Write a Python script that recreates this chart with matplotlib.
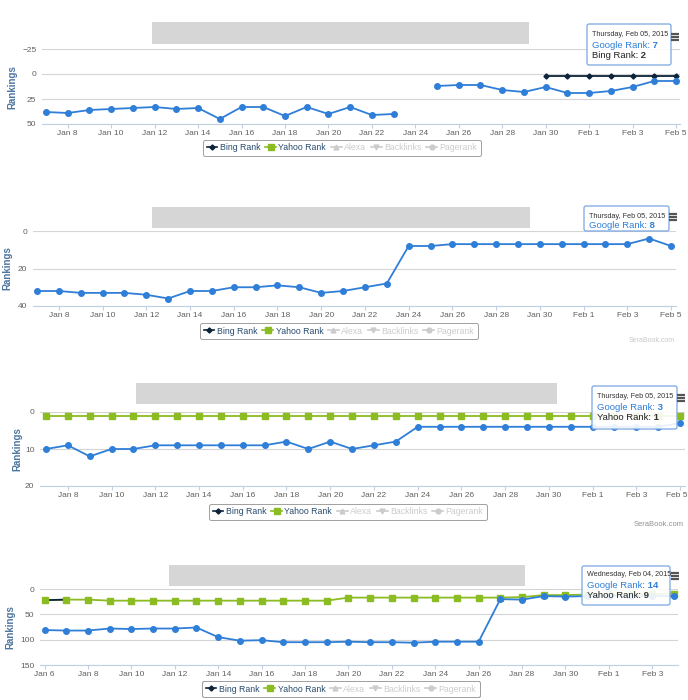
import numpy as np
import pandas as pd
import matplotlib
matplotlib.use("Agg")
import matplotlib.pyplot as plt
import matplotlib.dates as mdates
from matplotlib.patches import FancyBboxPatch, Rectangle
from matplotlib.lines import Line2D

W, H = 688, 700
plt.rcParams["font.family"] = ["Liberation Sans Narrow", "Liberation Sans", "DejaVu Sans"]

GOOGLE_C = "#2f7ed8"
BING_C = "#0d233a"
YAHOO_C = "#8bbc21"
HIDDEN_C = "#cccccc"
nan = np.nan

# ---- data ----
p1_google = [38, 39, 36, 35, 34, 33, 35, 34, 45, 33, 33, 42, 33, 40, 33, 41, 40, nan,
             12, 11, 11, 16, 18, 13, 19, 19, 17, 13, 7, 7]          # Jan 7 .. Feb 5
p1_bing = [2, 2, 2, 2, 2, 2, 2]                                      # Jan 30 .. Feb 5

p2_google = [32, 32, 33, 33, 33, 34, 36, 32, 32, 30, 30, 29, 30, 33, 32, 30, 28,
             8, 8, 7, 7, 7, 7, 7, 7, 7, 7, 7, 4, 8]                  # Jan 7 .. Feb 5

p3_google = [10, 9, 12, 10, 10, 9, 9, 9, 9, 9, 9, 8, 10, 8, 10, 9, 8,
             4, 4, 4, 4, 4, 4, 4, 4, 4, 4, 4, 4, 3]                  # Jan 7 .. Feb 5
p3_yahoo = [1] * 30

p4_google = [81, 82, 82, 78, 79, 78, 78, 76, 95, 102, 101, 105, 105, 105, 104, 105,
             105, 106, 104, 104, 104, 20, 21, 14, 15, 14, 14, 14, 14, 14]   # Jan 6 .. Feb 4
p4_yahoo = [22, 21, 21, 23, 23, 23, 23, 23, 23, 23, 23, 23, 23, 23, 17, 17, 17, 17,
            17, 17, 17, 17, 16, 12, 12, 11, 10, 10, 10, 9]
p4_bing = [22, 21]                                                    # Jan 6 .. Jan 7

tick_labels_a = ["Jan 8", "Jan 10", "Jan 12", "Jan 14", "Jan 16", "Jan 18", "Jan 20", "Jan 22",
                 "Jan 24", "Jan 26", "Jan 28", "Jan 30", "Feb 1", "Feb 3", "Feb 5"]
tick_labels_b = ["Jan 6", "Jan 8", "Jan 10", "Jan 12", "Jan 14", "Jan 16", "Jan 18", "Jan 20",
                 "Jan 22", "Jan 24", "Jan 26", "Jan 28", "Jan 30", "Feb 1", "Feb 3"]
legend_names = ["Bing Rank", "Yahoo Rank", "Alexa", "Backlinks", "Pagerank"]

d_jan7 = pd.date_range("2015-01-07", periods=30, freq="D")
d_jan6 = pd.date_range("2015-01-06", periods=30, freq="D")
ticks_a = pd.date_range("2015-01-08", periods=15, freq="2D")
ticks_b = pd.date_range("2015-01-06", periods=15, freq="2D")

fig = plt.figure(figsize=(W / 100, H / 100), dpi=100)


def panel(L, R, top, bot, x0, x1, dates, ylim, yticks, xticks, xlabels):
    ax = fig.add_axes([L / W, 1 - bot / H, (R - L) / W, (bot - top) / H])
    n0, n1 = mdates.date2num(dates[0]), mdates.date2num(dates[-1])
    perday = (x1 - x0) / (n1 - n0)
    ax.set_xlim(n0 - (x0 - L) / perday, n1 + (R - x1) / perday)
    ax.set_ylim(*ylim)
    ax.set_yticks(yticks)
    ax.set_xticks(mdates.date2num(xticks))
    ax.set_xticklabels(xlabels)
    for s in ["top", "left", "right"]:
        ax.spines[s].set_visible(False)
    ax.spines["bottom"].set_color("#c0d0e0")
    ax.yaxis.grid(True, color="#d4d4d4", lw=0.8)
    ax.set_axisbelow(True)
    ax.tick_params(axis="y", length=0, pad=4, labelsize=6, labelcolor="#606060")
    ax.tick_params(axis="x", length=3, color="#c0d0e0", pad=1.5, labelsize=6, labelcolor="#606060")
    return ax


def google(ax, d, v):
    ax.plot(mdates.date2num(d), v, "-o", color=GOOGLE_C, lw=1.3, ms=4, zorder=4, clip_on=False)


def yahoo(ax, d, v):
    x = mdates.date2num(d)
    ax.plot(x, v, "-", color=YAHOO_C, lw=1.3, zorder=3, clip_on=False)
    ax.plot(x, v, "s", color=YAHOO_C, ms=3.8, zorder=3.6, clip_on=False)


def bing(ax, d, v, marker="D"):
    ax.plot(mdates.date2num(d), v, "-", marker=marker, color=BING_C, lw=1.3, ms=2.6,
            zorder=3.3, clip_on=False)


# panel 1
ax1 = panel(42, 680, 49, 124, 46, 676, d_jan7, (50, -25), [-25, 0, 25, 50], ticks_a, tick_labels_a)
google(ax1, d_jan7, p1_google)
bing(ax1, d_jan7[23:], p1_bing)

# panel 2
ax2 = panel(33, 676, 231, 306, 37, 671, d_jan7, (40, 0), [0, 20, 40], ticks_a, tick_labels_a)
google(ax2, d_jan7, p2_google)

# panel 3 (last label sits against the right edge, drawn separately below)
ax3 = panel(40, 685, 412, 486, 46, 680, d_jan7, (20, 0), [0, 10, 20], ticks_a,
            tick_labels_a[:-1] + [""])
yahoo(ax3, d_jan7, p3_yahoo)
google(ax3, d_jan7, p3_google)

# panel 4
ax4 = panel(40, 678, 589, 665, 44.5, 674, d_jan6, (150, 0), [0, 50, 100, 150], ticks_b, tick_labels_b)
yahoo(ax4, d_jan6, p4_yahoo)
bing(ax4, d_jan6[:2], p4_bing, marker="None")
google(ax4, d_jan6, p4_google)

# ---- overlay in pixel coordinates ----
ov = fig.add_axes([0, 0, 1, 1], zorder=10)
ov.set_xlim(0, W)
ov.set_ylim(H, 0)
ov.axis("off")
ov.patch.set_alpha(0)

ov.text(687, 492, tick_labels_a[-1], ha="right", va="top", fontsize=6, color="#606060")

# redacted title bars
for x0, x1, y0, y1 in [(152, 529, 22, 44), (152, 530, 207, 228), (136, 557, 383, 404), (169, 525, 565, 586)]:
    ov.add_patch(Rectangle((x0, y0), x1 - x0, y1 - y0, color="#d6d6d6", lw=0, zorder=1))

# axis titles
for x, yc in [(12, 87), (7, 268), (17, 449), (10, 627)]:
    ov.text(x, yc, "Rankings", rotation=90, ha="center", va="center", fontsize=7,
            fontweight="bold", color="#4d759e")

# legends
handles = [
    Line2D([], [], color=BING_C, marker="D", ms=2.6, lw=1.2),
    Line2D([], [], color=YAHOO_C, marker="s", ms=3.8, lw=1.2),
    Line2D([], [], color=HIDDEN_C, marker="^", ms=3.5, lw=1.2),
    Line2D([], [], color=HIDDEN_C, marker="v", ms=3.5, lw=1.2),
    Line2D([], [], color=HIDDEN_C, marker="o", ms=3.5, lw=1.2),
]
for cx, cy in [(342, 148), (339, 331), (348, 512), (341, 689)]:
    leg = ov.legend(handles, legend_names, loc="center", bbox_to_anchor=(cx, cy),
                    bbox_transform=ov.transData, ncol=5, fontsize=6.3, frameon=True, fancybox=True,
                    handlelength=1.2, handletextpad=0.3, columnspacing=0.55, borderpad=0.4,
                    edgecolor="#a0a0a0", framealpha=1)
    leg.get_frame().set_linewidth(0.7)
    for t, c in zip(leg.get_texts(), ["#274b6d", "#274b6d", HIDDEN_C, HIDDEN_C, HIDDEN_C]):
        t.set_color(c)
    ov.add_artist(leg)


# tooltips
def tooltip(x0, y0, x1, y1, tx, lines):
    ov.add_patch(FancyBboxPatch((x0, y0), x1 - x0, y1 - y0, boxstyle="round,pad=0,rounding_size=2",
                                facecolor=(1, 1, 1, 0.9), edgecolor="#7aa7e0", lw=0.9, zorder=5))
    for y, label, val, col in lines:
        if val is None:
            ov.text(tx, y, label, fontsize=5.2, color="#333333", va="center", zorder=6)
        else:
            t = ov.text(tx, y, label, fontsize=6.8, color=col, va="center", zorder=6)
            ov.annotate(" " + val, xy=(1, 0.5), xycoords=t, va="center", fontsize=6.8,
                        fontweight="bold", color="#333333" if col != GOOGLE_C else GOOGLE_C, zorder=6)


tooltip(587, 24, 671, 65, 592, [(35, "Thursday, Feb 05, 2015", None, None),
                                (45, "Google Rank:", "7", GOOGLE_C),
                                (55, "Bing Rank:", "2", "#222222")])
tooltip(584, 206, 669, 231, 589, [(216, "Thursday, Feb 05, 2015", None, None),
                                  (226, "Google Rank:", "8", GOOGLE_C)])
tooltip(592, 386, 677, 429, 597, [(397, "Thursday, Feb 05, 2015", None, None),
                                  (407, "Google Rank:", "3", GOOGLE_C),
                                  (417, "Yahoo Rank:", "1", "#222222")])
tooltip(582, 566, 670, 605, 587, [(575, "Wednesday, Feb 04, 2015", None, None),
                                  (585, "Google Rank:", "14", GOOGLE_C),
                                  (595, "Yahoo Rank:", "9", "#222222")])

# export menu icons
for x0, ytop in [(671, 34), (669, 214), (677, 395), (671, 573)]:
    for k in range(3):
        ov.plot([x0, x0 + 8], [ytop + k * 3.2, ytop + k * 3.2], color="#555555", lw=1.6,
                solid_capstyle="butt", zorder=7)

# credits
ov.text(675, 341, "SeraBook.com", ha="right", va="center", fontsize=5, color="#c8c8c8")
ov.text(684, 524, "SeraBook.com", ha="right", va="center", fontsize=5.5, color="#909090")

fig.savefig("out.png", dpi=100)
